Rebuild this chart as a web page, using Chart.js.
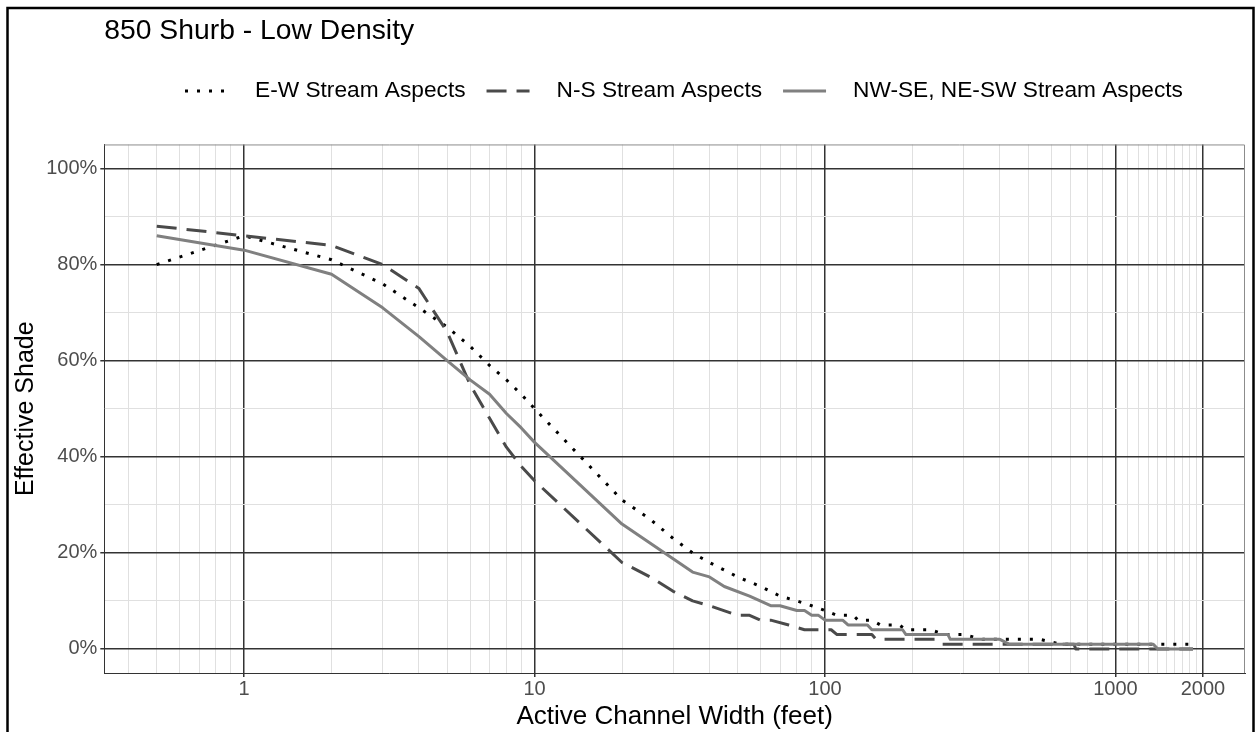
<!DOCTYPE html>
<html>
<head>
<meta charset="utf-8">
<title>850 Shurb - Low Density</title>
<script src="https://cdn.jsdelivr.net/npm/chart.js"></script>
<style>
  html, body { margin: 0; padding: 0; background: #fff; }
  #shade { display: block; }
</style>
</head>
<body>
<canvas id="shade" width="1255" height="732"></canvas>
<script>
// Effective shade (%) against active channel width (feet), one pair per stream aspect
const ewWidth = [0.5, 1, 2, 3, 4, 5, 6, 7, 8, 9, 10, 20, 25, 30, 35, 40, 50, 60, 70, 80, 90, 100,
                 110, 125, 130, 145, 155, 180, 190, 230, 260, 300, 350, 550, 650, 1850];
const ewShade = [80, 86, 81, 76, 71, 67, 63, 59, 56, 53, 50, 31, 27, 23, 20, 18, 15, 13, 11, 10, 9, 8,
                 7, 7, 6, 6, 5, 5, 4, 4, 3, 3, 2, 2, 1, 1];

const nsWidth = [0.5, 1, 2, 3, 4, 5, 6, 7, 8, 9, 10, 20, 25, 30, 35, 40, 50, 55, 60, 65, 75, 85,
                 105, 110, 145, 150, 240, 250, 720, 730, 1850];
const nsShade = [88, 86, 84, 80, 75, 66, 55, 48, 42, 38, 35, 18, 15, 12, 10, 9, 7, 7, 6, 6, 5, 4,
                 4, 3, 3, 2, 2, 1, 1, 0, 0];

const diagWidth = [0.5, 1, 2, 3, 4, 5, 6, 7, 8, 9, 10, 20, 35, 40, 45, 55, 65, 70, 80, 85, 90, 95, 100,
                   115, 120, 140, 145, 185, 190, 265, 270, 400, 430, 1350, 1400, 1850];
const diagShade = [86, 83, 78, 71, 65, 60, 56, 53, 49, 46, 43, 26, 16, 15, 13, 11, 9, 9, 8, 8, 7, 7, 6,
                   6, 5, 5, 4, 4, 3, 3, 2, 2, 1, 1, 0, 0];

// axis breaks
const xMajorTicks = [1, 10, 100, 1000, 2000];
const xMinorTicks = [0.4, 0.5, 0.6, 0.7, 0.8, 0.9, 2, 3, 4, 5, 6, 7, 8, 9,
                     20, 30, 40, 50, 60, 70, 80, 90, 200, 300, 400, 500, 600, 700, 800, 900,
                     1100, 1200, 1300, 1400, 1500, 1600, 1700, 1800, 1900];
const yMajorTicks = [0, 20, 40, 60, 80, 100];
const yMinorTicks = [10, 30, 50, 70, 90];

const FONT = "'Liberation Sans', Arial, Helvetica, sans-serif";
const MAJOR = '#333333';
const MINOR = '#e0e0e0';

function toPoints(xs, ys) {
    return xs.map((x, i) => ({ x: x, y: ys[i] }));
}

function isMajor(list, v) {
    return list.some(m => Math.abs(m - v) < 1e-9 * Math.max(1, m));
}

function tickList(major, minor) {
    return major.concat(minor).sort((a, b) => a - b).map(v => ({ value: v }));
}

// white page, outer frame and the grey top/right panel edges
const frame = {
    id: 'frame',
    beforeDraw(chart) {
        const ctx = chart.ctx;
        ctx.save();
        ctx.fillStyle = '#fff';
        ctx.fillRect(0, 0, chart.width, chart.height);
        ctx.restore();
    },
    afterDatasetsDraw(chart) {
        const { ctx, chartArea } = chart;
        ctx.save();
        ctx.strokeStyle = '#8c8c8c';
        ctx.lineWidth = 1;
        ctx.beginPath();
        ctx.moveTo(chartArea.left, chartArea.top + 0.5);
        ctx.lineTo(chartArea.right - 0.5, chartArea.top + 0.5);
        ctx.lineTo(chartArea.right - 0.5, chartArea.bottom);
        ctx.stroke();
        ctx.restore();
    },
    afterDraw(chart) {
        const ctx = chart.ctx;
        ctx.save();
        ctx.strokeStyle = '#000';
        ctx.lineWidth = 2.5;
        ctx.strokeRect(7.5, 8, 1246, 740);
        ctx.restore();
    }
};

// horizontal legend row with line keys drawn from each dataset's style
const keyLegend = {
    id: 'keyLegend',
    afterDraw(chart) {
        const ctx = chart.ctx;
        const keyY = 91;
        const keyW = 43;
        let x = 185;
        ctx.save();
        ctx.font = '22.7px ' + FONT;
        ctx.textBaseline = 'alphabetic';
        chart.data.datasets.forEach(ds => {
            ctx.beginPath();
            ctx.setLineDash(ds.borderDash || []);
            ctx.lineCap = 'butt';
            ctx.lineWidth = ds.borderWidth;
            ctx.strokeStyle = ds.borderColor;
            ctx.moveTo(x, keyY);
            ctx.lineTo(x + keyW, keyY);
            ctx.stroke();
            ctx.setLineDash([]);
            ctx.fillStyle = '#000';
            ctx.fillText(ds.label, x + keyW + 27, 96.5);
            x += keyW + 27 + ctx.measureText(ds.label).width + 21;
        });
        ctx.restore();
    }
};

new Chart(document.getElementById('shade'), {
    type: 'line',
    data: {
        datasets: [
            {
                label: 'E-W Stream Aspects',
                data: toPoints(ewWidth, ewShade),
                borderColor: '#000000',
                borderWidth: 3,
                borderDash: [3, 9],
                order: 3
            },
            {
                label: 'N-S Stream Aspects',
                data: toPoints(nsWidth, nsShade),
                borderColor: '#4a4a4a',
                borderWidth: 3,
                borderDash: [20, 10],
                order: 2
            },
            {
                label: 'NW-SE, NE-SW Stream Aspects',
                data: toPoints(diagWidth, diagShade),
                borderColor: '#808080',
                borderWidth: 3,
                order: 1
            }
        ]
    },
    options: {
        responsive: false,
        animation: false,
        devicePixelRatio: 1,
        layout: {
            padding: { left: 0, right: 10, top: 0, bottom: 0 }
        },
        elements: {
            point: { radius: 0, hoverRadius: 0 },
            line: { tension: 0, fill: false, borderJoinStyle: 'round' }
        },
        plugins: {
            legend: { display: false },
            tooltip: { enabled: false },
            title: {
                display: true,
                text: '850 Shurb - Low Density',
                align: 'start',
                fullSize: false,
                color: '#000',
                font: { family: FONT, size: 28.3, weight: 'normal' },
                padding: { top: 14, bottom: 96.5 }
            }
        },
        scales: {
            x: {
                type: 'logarithmic',
                min: 0.33,
                max: 2793,
                bounds: 'data',
                afterBuildTicks: scale => { scale.ticks = tickList(xMajorTicks, xMinorTicks); },
                afterFit: scale => { scale.height = 59; },
                ticks: {
                    autoSkip: false,
                    maxRotation: 0,
                    minRotation: 0,
                    padding: 0,
                    color: '#4d4d4d',
                    font: { family: FONT, size: 20 },
                    callback: v => isMajor(xMajorTicks, v) ? String(v) : ''
                },
                grid: {
                    color: c => (c.tick && isMajor(xMajorTicks, c.tick.value)) ? MAJOR : MINOR,
                    lineWidth: c => (c.tick && isMajor(xMajorTicks, c.tick.value)) ? 1.5 : 1,
                    tickColor: c => (c.tick && isMajor(xMajorTicks, c.tick.value)) ? MAJOR : 'rgba(0,0,0,0)',
                    tickLength: 4,
                    tickWidth: 1.5
                },
                border: { display: true, color: MAJOR, width: 1 },
                title: {
                    display: true,
                    text: 'Active Channel Width (feet)',
                    color: '#000',
                    font: { family: FONT, size: 26 },
                    padding: { top: 0, bottom: 0 }
                }
            },
            y: {
                type: 'linear',
                min: -5,
                max: 105,
                bounds: 'data',
                afterBuildTicks: scale => { scale.ticks = tickList(yMajorTicks, yMinorTicks); },
                afterFit: scale => { scale.width = 104.3; },
                ticks: {
                    padding: 3,
                    color: '#4d4d4d',
                    font: { family: FONT, size: 20 },
                    callback: v => isMajor(yMajorTicks, v) ? v + '%' : ''
                },
                grid: {
                    color: c => (c.tick && isMajor(yMajorTicks, c.tick.value)) ? MAJOR : MINOR,
                    lineWidth: c => (c.tick && isMajor(yMajorTicks, c.tick.value)) ? 1.5 : 1,
                    tickColor: c => (c.tick && isMajor(yMajorTicks, c.tick.value)) ? MAJOR : 'rgba(0,0,0,0)',
                    tickLength: 4,
                    tickWidth: 1.5
                },
                border: { display: true, color: MAJOR, width: 1 },
                title: {
                    display: true,
                    text: 'Effective Shade',
                    color: '#000',
                    font: { family: FONT, size: 25 },
                    padding: { top: 11.5, bottom: 0 }
                }
            }
        }
    },
    plugins: [frame, keyLegend]
});
</script>
</body>
</html>
